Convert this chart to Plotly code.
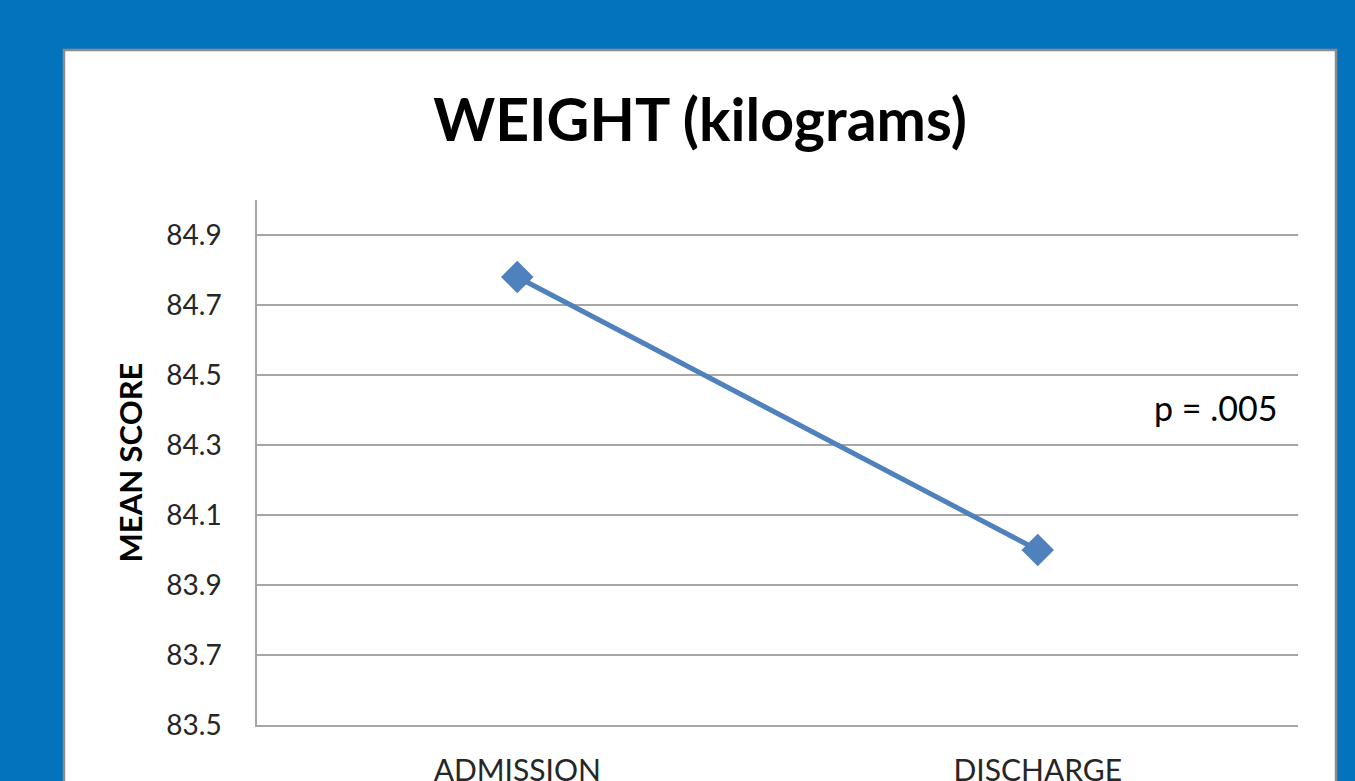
import plotly.graph_objects as go

categories = ["ADMISSION", "DISCHARGE"]
mean_weight = [84.78, 84.00]
y_ticks = [83.5, 83.7, 83.9, 84.1, 84.3, 84.5, 84.7, 84.9]
title_text = "WEIGHT (kilograms)"
y_title = "MEAN SCORE"
p_text = "p = .005"

BLUE_BG = "#0473BD"
LINE = "#4F81BD"
GRID = "#A6A6A6"
FONT = "Lato, 'Open Sans', sans-serif"

fig = go.Figure()
fig.add_trace(go.Scatter(
    x=categories, y=mean_weight, mode="lines+markers",
    line=dict(color=LINE, width=5),
    marker=dict(symbol="diamond", size=25, color=LINE),
    showlegend=False, cliponaxis=False,
))

L, R, T, B = 257, 57, 200, 56
W, H = 1355, 781
pw, ph = W - L - R, H - T - B

def px_to_paper_x(px):
    return (px - L) / pw

def px_to_paper_y(py):
    return (H - B - py) / ph

# white panel with gray border
fig.add_shape(type="rect", xref="paper", yref="paper",
              x0=px_to_paper_x(64), x1=px_to_paper_x(1336),
              y0=px_to_paper_y(820), y1=px_to_paper_y(50),
              fillcolor="white", line=dict(color="#8C8C8C", width=2.5),
              layer="below")

fig.update_layout(
    width=W, height=H,
    margin=dict(l=L, r=R, t=T, b=B, autoexpand=False),
    paper_bgcolor=BLUE_BG, plot_bgcolor="rgba(0,0,0,0)",
    font=dict(family=FONT, color="#262626"),
    title=dict(text="<b>" + title_text + "</b>", x=700 / W,
               xanchor="center", y=1 - 120 / H, yanchor="middle",
               font=dict(size=59, color="black", family=FONT)),
    xaxis=dict(type="category", range=[-0.5, 1.5], showgrid=False,
               showline=True, linecolor=GRID, linewidth=1.5,
               ticks="", tickfont=dict(size=30, color="#262626"),
               ticklabelstandoff=18, automargin=False, fixedrange=True),
    yaxis=dict(range=[83.5, 85.0], tickvals=y_ticks,
               ticktext=[f"{v:.1f}" for v in y_ticks],
               showgrid=True, gridcolor=GRID, gridwidth=1.5,
               showline=True, linecolor=GRID, linewidth=1.5,
               zeroline=False, ticks="",
               tickfont=dict(size=28, color="#262626"),
               ticklabelstandoff=28, automargin=False,
               title=dict(text="<b>" + y_title + "</b>", standoff=14,
                          font=dict(size=31, color="black")),
               fixedrange=True),
    annotations=[dict(text=p_text, xref="paper", yref="paper",
                      x=px_to_paper_x(1279), y=px_to_paper_y(407),
                      xanchor="right", yanchor="middle", showarrow=False,
                      font=dict(size=34, color="black"))],
)

fig.write_html("out.html", config={"displayModeBar": False},
               post_script="document.body.style.margin='0';document.body.style.overflow='hidden';")
